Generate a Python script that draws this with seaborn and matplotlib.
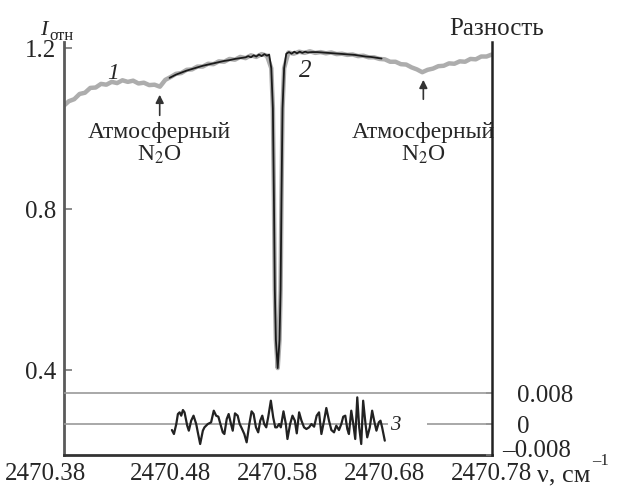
import matplotlib.pyplot as plt
import matplotlib.transforms as mtransforms
import seaborn as sns
import pandas as pd

# curve 1: observed spectrum (continuum part, the strong line is below)
nu_obs = [2470.380, 2470.385, 2470.390, 2470.395, 2470.400, 2470.405, 2470.410, 2470.415,
          2470.420, 2470.425, 2470.430, 2470.435, 2470.440, 2470.445, 2470.450, 2470.455,
          2470.460, 2470.465, 2470.470, 2470.475, 2470.480, 2470.485, 2470.490, 2470.495,
          2470.500, 2470.505, 2470.510, 2470.515, 2470.520, 2470.525, 2470.530, 2470.535,
          2470.540, 2470.545, 2470.550, 2470.555, 2470.560, 2470.565, 2470.570,
          2470.590, 2470.595, 2470.600, 2470.605, 2470.610, 2470.615, 2470.620, 2470.625,
          2470.630, 2470.635, 2470.640, 2470.645, 2470.650, 2470.655, 2470.660, 2470.665,
          2470.670, 2470.675, 2470.680, 2470.685, 2470.690, 2470.695, 2470.700, 2470.705,
          2470.710, 2470.715, 2470.720, 2470.725, 2470.730, 2470.735, 2470.740, 2470.745,
          2470.750, 2470.755, 2470.760, 2470.765, 2470.770, 2470.775, 2470.780]
i_obs = [1.056, 1.068, 1.073, 1.086, 1.089, 1.101, 1.102, 1.111,
         1.109, 1.116, 1.113, 1.120, 1.116, 1.119, 1.112, 1.114,
         1.108, 1.109, 1.104, 1.121, 1.128, 1.136, 1.138, 1.146,
         1.147, 1.154, 1.154, 1.161, 1.160, 1.167, 1.166, 1.173,
         1.171, 1.178, 1.175, 1.182, 1.178, 1.185, 1.181,
         1.189, 1.186, 1.191, 1.188, 1.192, 1.188, 1.190, 1.187,
         1.189, 1.185, 1.186, 1.183, 1.184, 1.180, 1.181, 1.177,
         1.177, 1.173, 1.172, 1.166, 1.166, 1.160, 1.159, 1.152,
         1.147, 1.140, 1.146, 1.149, 1.155, 1.156, 1.162, 1.161,
         1.167, 1.166, 1.173, 1.172, 1.179, 1.179, 1.184]

# the strong absorption line (same in observation and fit)
nu_line = [2470.5740, 2470.5755, 2470.5765, 2470.5773, 2470.5783, 2470.5800,
           2470.5817, 2470.5827, 2470.5835, 2470.5845, 2470.5860]
i_line = [1.150, 1.050, 0.820, 0.600, 0.475, 0.405,
          0.475, 0.600, 0.820, 1.050, 1.150]

# curve 2: fit
nu_fit = [2470.4790, 2470.4850, 2470.4900, 2470.4950, 2470.5000, 2470.5050, 2470.5100,
          2470.5150, 2470.5200, 2470.5250, 2470.5300, 2470.5350, 2470.5400, 2470.5450,
          2470.5500, 2470.5525, 2470.5550, 2470.5575, 2470.5600, 2470.5625, 2470.5650,
          2470.5675, 2470.5700, 2470.5720,
          2470.5880, 2470.5905, 2470.5930, 2470.5955, 2470.5980, 2470.6005, 2470.6030,
          2470.6055, 2470.6080, 2470.6120, 2470.6170, 2470.6220, 2470.6270, 2470.6320,
          2470.6370, 2470.6420, 2470.6470, 2470.6520, 2470.6570, 2470.6620, 2470.6670,
          2470.6720, 2470.6770]
i_fit = [1.126, 1.134, 1.139, 1.144, 1.148, 1.152, 1.156,
         1.159, 1.162, 1.165, 1.168, 1.170, 1.173, 1.175,
         1.177, 1.180, 1.177, 1.182, 1.179, 1.184, 1.180,
         1.185, 1.181, 1.184,
         1.186, 1.190, 1.186, 1.191, 1.187, 1.191, 1.188,
         1.191, 1.189, 1.190, 1.190, 1.189, 1.188, 1.187,
         1.186, 1.185, 1.184, 1.183, 1.181, 1.179, 1.178,
         1.176, 1.174]

# curve 3: difference, in units of 1e-3
nu_res = [2470.4812, 2470.4831, 2470.4853, 2470.4868, 2470.4884, 2470.4899, 2470.4915,
          2470.4930, 2470.4955, 2470.4970, 2470.4992, 2470.5014, 2470.5039, 2470.5054,
          2470.5076, 2470.5101, 2470.5116, 2470.5147, 2470.5178, 2470.5203, 2470.5225,
          2470.5246, 2470.5265, 2470.5287, 2470.5302, 2470.5324, 2470.5342, 2470.5364,
          2470.5380, 2470.5401, 2470.5426, 2470.5445, 2470.5463, 2470.5488, 2470.5510,
          2470.5535, 2470.5556, 2470.5575, 2470.5597, 2470.5618, 2470.5637, 2470.5656,
          2470.5674, 2470.5693, 2470.5711, 2470.5736, 2470.5758, 2470.5777,
          2470.5792, 2470.5814, 2470.5829, 2470.5854, 2470.5876, 2470.5891, 2470.5916,
          2470.5938, 2470.5960, 2470.5978, 2470.6000, 2470.6022, 2470.6046, 2470.6068,
          2470.6093, 2470.6115, 2470.6140, 2470.6164, 2470.6186, 2470.6208, 2470.6233,
          2470.6254, 2470.6279, 2470.6301, 2470.6326, 2470.6347, 2470.6372, 2470.6394,
          2470.6412, 2470.6431, 2470.6450, 2470.6465, 2470.6487, 2470.6506, 2470.6524,
          2470.6543, 2470.6561, 2470.6580, 2470.6598, 2470.6620, 2470.6636, 2470.6660,
          2470.6682, 2470.6704, 2470.6722, 2470.6744, 2470.6760, 2470.6775, 2470.6800]
res = [-1.55, -2.58, 0.00, 2.58, 3.01, 2.15, 3.61,
       3.01, -0.43, -1.72, 0.86, 2.15, 0.00, -2.15,
       -5.16, -1.72, -0.86, 0.00, 0.43, 3.44, 2.15,
       1.89, 0.00, -2.15, -2.58, 1.29, 2.58, 0.00,
       -1.72, 2.75, 2.15, 0.00, -1.03, -2.58, -4.73,
       0.00, 3.27, 2.58, -0.86, -2.15, 0.86, 2.15,
       0.00, -0.86, 1.72, 6.02, 1.72, -0.86,
       -0.86, 0.00, -0.86, 3.27, 0.00, -3.87, 0.00,
       2.15, 0.86, -2.41, 3.01, 0.86, -0.86, -1.29,
       -0.86, 0.00, -0.69, 2.15, 3.01, -2.58, 0.86,
       4.13, 0.86, -1.55, -2.15, -0.43, -1.55, 0.00,
       1.89, 2.15, -1.29, -2.58, 3.44, 0.00, -3.87,
       6.88, -0.86, -5.16, 6.02, 0.00, -3.44, -0.86,
       3.44, 0.43, -1.72, 0.43, 0.86, -0.86, -4.30]

n2o_nu = [2470.4698, 2470.7160]
n2o_tip = [1.091, 1.128]
n2o_base = [1.026, 1.066]

x_ticks = [2470.38, 2470.48, 2470.58, 2470.68, 2470.78]
y_ticks = [0.4, 0.8, 1.2]
res_ticks = [-0.008, 0, 0.008]
res_labels = ['\u20130.008', '0', '0.008']

obs = pd.DataFrame({'nu': nu_obs + nu_line, 'I': i_obs + i_line}).sort_values('nu')
fit = pd.DataFrame({'nu': nu_fit + nu_line, 'I': i_fit + i_line}).sort_values('nu')
diff = pd.DataFrame({'nu': nu_res, 'd': [r / 1000 for r in res]})

sns.set_style('white')
plt.rcParams['font.family'] = ['Liberation Serif', 'DejaVu Serif']
plt.rcParams['mathtext.fontset'] = 'stix'

fig = plt.figure(figsize=(6.29, 4.87), dpi=100)
ax = fig.add_axes([0.101, 0.0657, 0.681, 0.848])

sns.lineplot(data=obs, x='nu', y='I', ax=ax, color='#adadad', lw=3.2, estimator=None)
sns.lineplot(data=fit, x='nu', y='I', ax=ax, color='#1a1a1a', lw=1.3, estimator=None)

ax.set_xlim(2470.38, 2470.78)
ax.set_ylim(0.189, 1.215)
ax.set_xticks(x_ticks)
ax.set_xticklabels([f'{v:.2f}' for v in x_ticks])
ax.set_yticks(y_ticks)
ax.set_yticklabels([f'{v:.1f}' for v in y_ticks])
ax.set_xlabel('')
ax.set_ylabel('')
ax.tick_params(axis='y', direction='in', length=6, width=1.2, color='#777777',
               labelsize=18, pad=5)
ax.tick_params(axis='x', direction='in', length=5, width=1.2, color='#777777',
               labelsize=18, pad=5.5)

first = ax.xaxis.get_major_ticks()[0].label1
first.set_transform(first.get_transform() +
                    mtransforms.ScaledTranslation(-0.18, 0, fig.dpi_scale_trans))

for s in ['top', 'right']:
    ax.spines[s].set_visible(False)
ax.spines['left'].set_color('#5a5a5a')
ax.spines['left'].set_linewidth(2)
ax.spines['bottom'].set_color('#333333')
ax.spines['bottom'].set_linewidth(2)

for x, tip, base in zip(n2o_nu, n2o_tip, n2o_base):
    ax.annotate('', xy=(x, tip), xytext=(x, base),
                arrowprops=dict(arrowstyle='-|>', color='#333333', lw=1.2,
                                mutation_scale=12))
    ax.text(x, 1.017, 'Атмосферный\nN$_2$O', ha='center', va='top',
            fontsize=17, linespacing=1.05)

ax.text(2470.426, 1.138, '1', style='italic', fontsize=17, ha='center', va='center')
ax.text(2470.6056, 1.143, '2', style='italic', fontsize=18, ha='center', va='center')

# difference on its own scale
ax2 = ax.twinx()
ax2.set_ylim(-0.008, 0.0986)
ax2.hlines([0.008], 2470.38, 2470.78, color='#9a9a9a', lw=1.2)
ax2.hlines([0, 0], [2470.38, 2470.7195], [2470.683, 2470.78], color='#9a9a9a', lw=1.2)
sns.lineplot(data=diff, x='nu', y='d', ax=ax2, color='#222222', lw=1.6, estimator=None,
             solid_joinstyle='round')
ax2.text(2470.6902, -0.0003, '3', style='italic', fontsize=15, ha='center', va='center')
ax2.set_ylabel('')
ax2.set_yticks(res_ticks)
ax2.set_yticklabels(res_labels)
ax2.tick_params(axis='y', direction='in', length=4, width=1.2, color='#777777',
                labelsize=18, pad=18)
for s in ['top', 'left', 'bottom']:
    ax2.spines[s].set_visible(False)
ax2.spines['right'].set_color('#222222')
ax2.spines['right'].set_linewidth(1.8)
ax2.set_xlim(2470.38, 2470.78)

neg = ax2.yaxis.get_major_ticks()[0].label2
neg.set_transform(neg.get_transform() +
                  mtransforms.ScaledTranslation(-0.15, 0.07, fig.dpi_scale_trans))

fig.text(44 / 629, 1 - 35 / 487, 'I', style='italic', fontsize=16, ha='center', va='baseline')
fig.text(49 / 629, 1 - 40 / 487, 'отн', fontsize=12, ha='left', va='baseline')
fig.text(497 / 629, 1 - 35 / 487, 'Разность', fontsize=18, ha='center', va='baseline')
fig.text(537 / 629, 1 - 481 / 487, 'ν, см', fontsize=19, ha='left', va='baseline')
fig.text(592 / 629, 1 - 465 / 487, '\u20131', fontsize=12, ha='left', va='baseline')

fig.savefig('out.png', dpi=100)
